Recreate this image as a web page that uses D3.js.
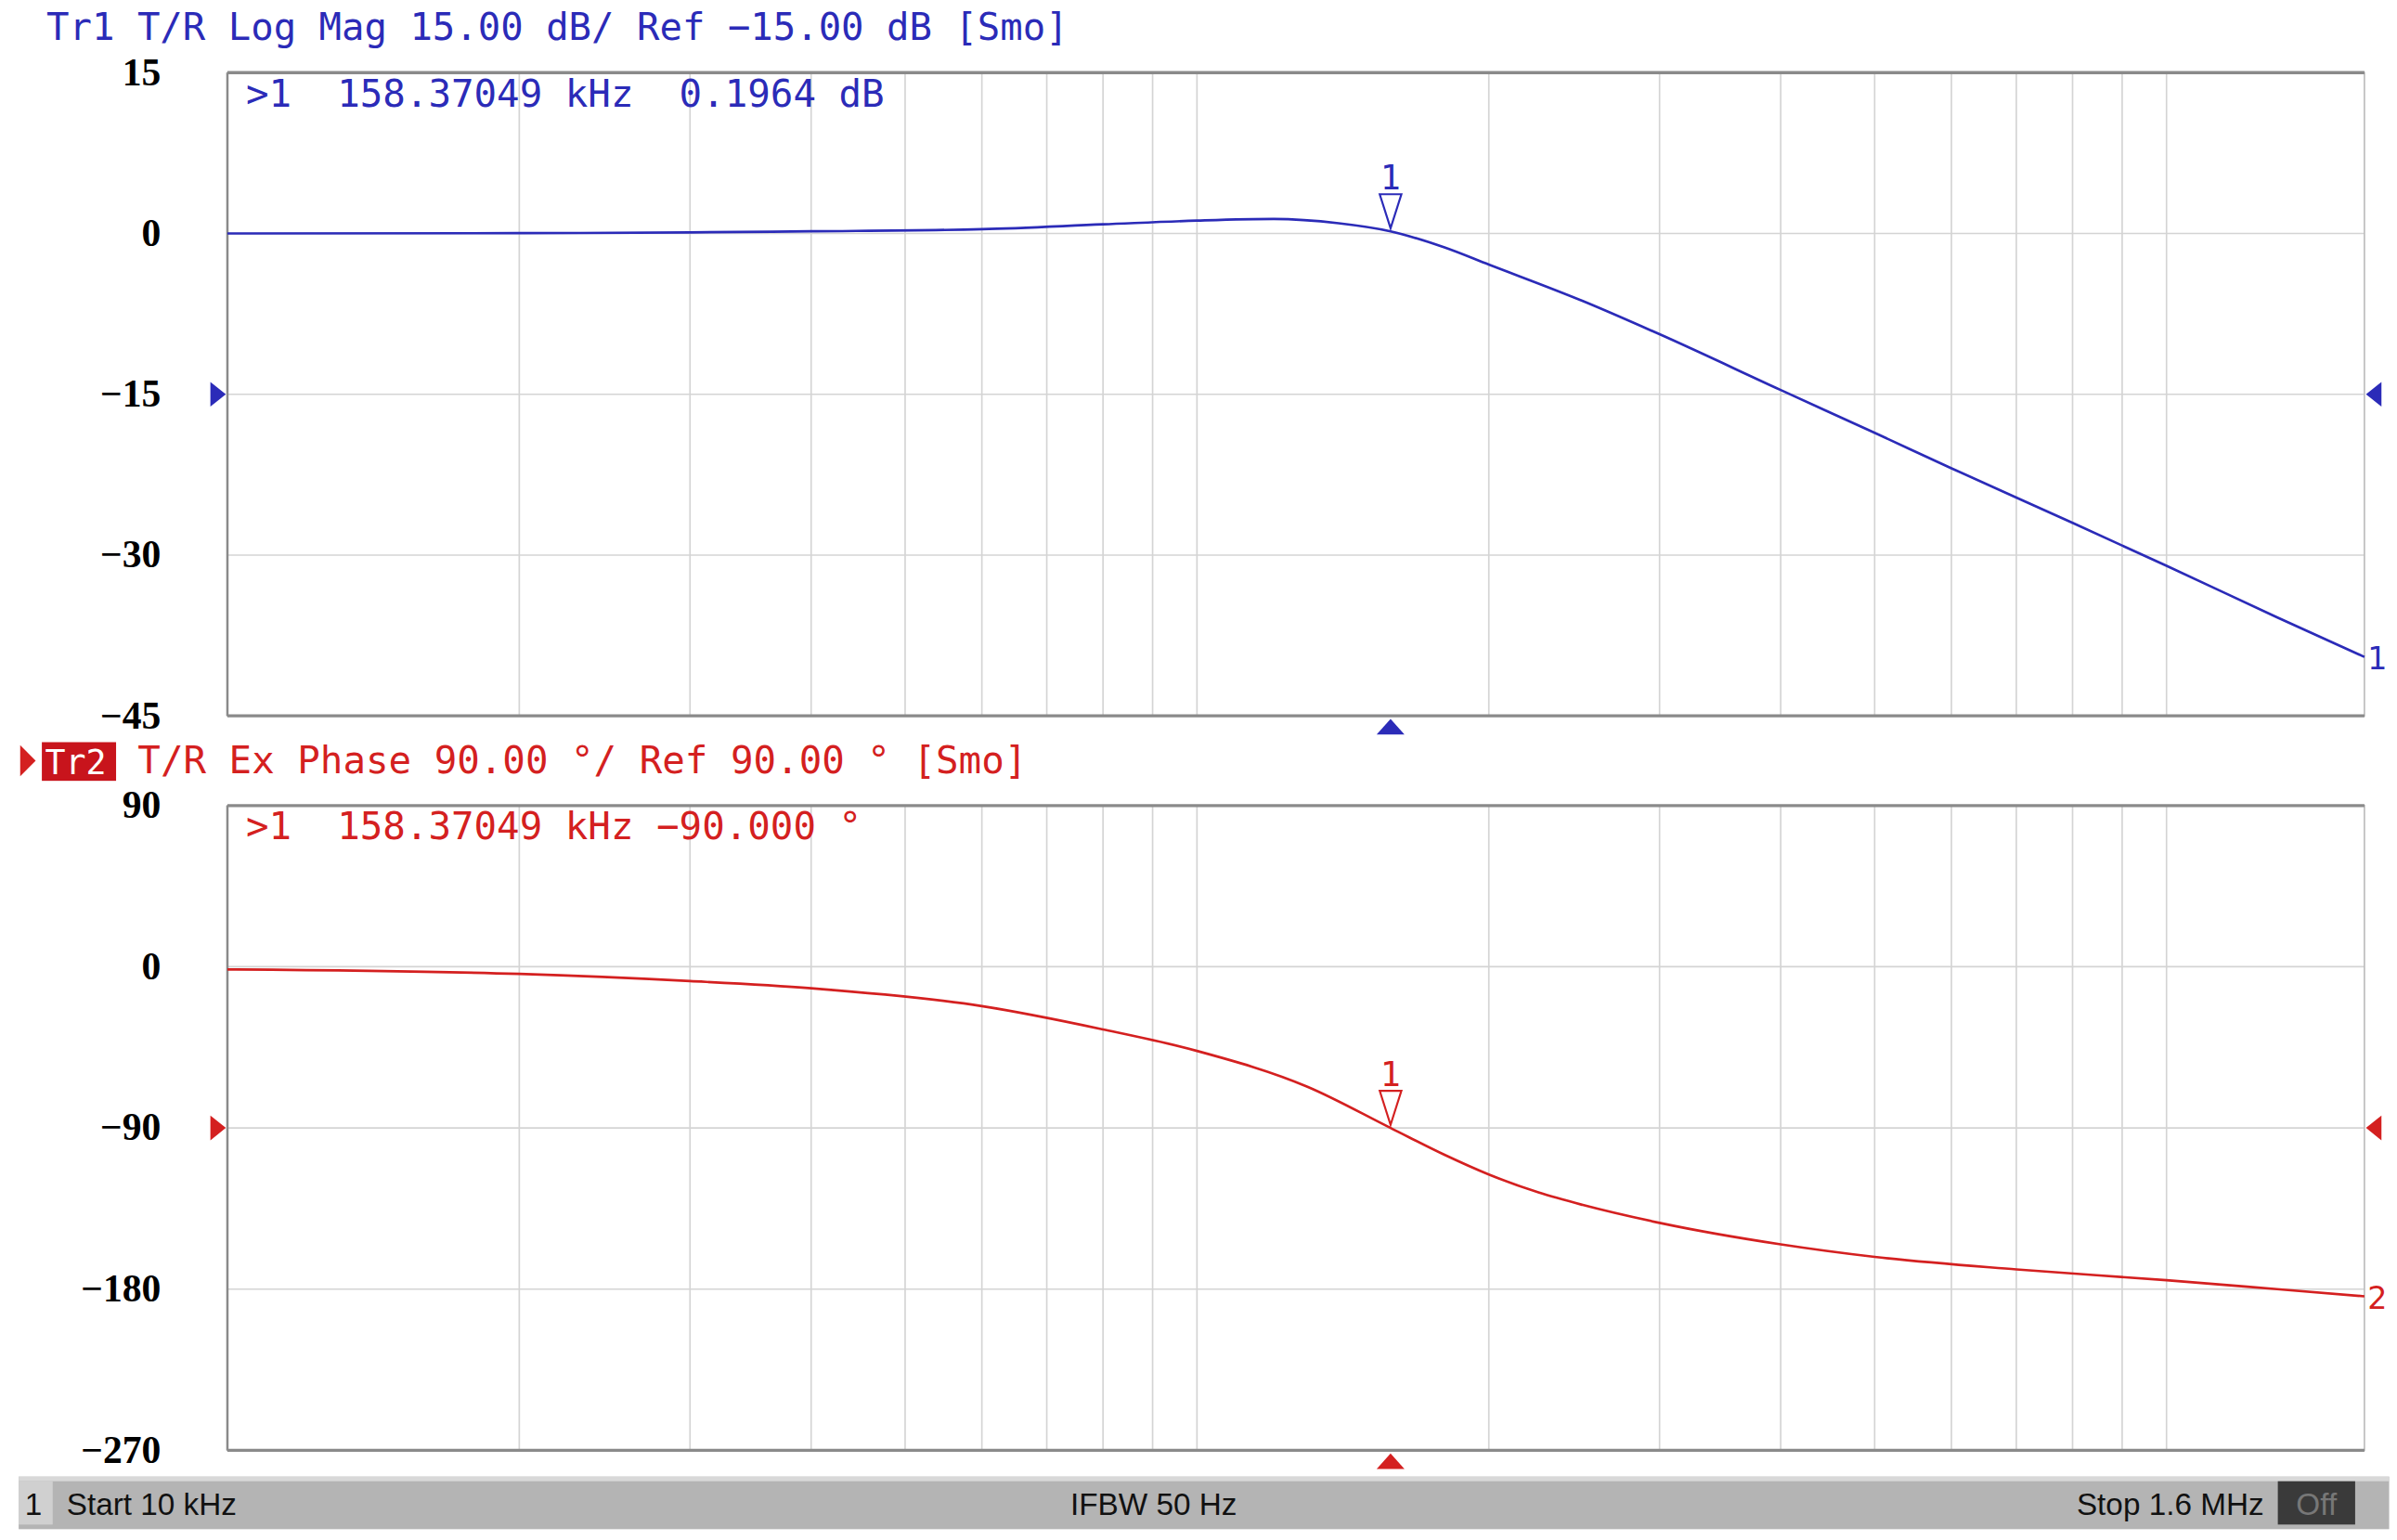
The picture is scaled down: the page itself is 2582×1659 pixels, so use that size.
<!DOCTYPE html>
<html><head><meta charset="utf-8">
<script src="https://cdn.jsdelivr.net/npm/d3@7"></script>
<style>body{margin:0;background:#fff}svg{display:block}</style>
</head><body>
<svg id="c" width="2582" height="1659" viewBox="0 0 1550 996"></svg>
<script>
// frequencies in kHz
const magFreq = [10, 20, 30, 40, 60, 80, 100, 120, 140, 158.37, 180, 200, 250, 300, 400, 500, 600, 800, 1000, 1300, 1600];
const magDb   = [0, 0.03, 0.1, 0.2, 0.4, 0.85, 1.2, 1.35, 0.95, 0.1964, -1.3, -2.9, -6.3, -9.4, -14.6, -18.6, -21.9, -27.0, -31.0, -35.8, -39.5];
const phFreq = [10, 20, 30, 40, 60, 80, 100, 130, 158.37, 180, 200, 225, 250, 300, 400, 500, 700, 1000, 1300, 1600];
const phDeg  = [-1.5, -4, -8, -12, -22, -35, -47, -67, -90, -105, -116, -126, -133, -143, -155, -162, -169, -175, -180, -184];
const magTicks = [15, 0, -15, -30, -45];
const phTicks = [90, 0, -90, -180, -270];
const gridFreq = [20,30,40,50,60,70,80,90,100,200,300,400,500,600,700,800,900,1000];
const markerF = 158.37049;

const svg = d3.select("#c");
const L = 147, R = 1529;
const x = d3.scaleLog().domain([10, 1600]).range([L, R]);
const blue = "#2b2bb8", red = "#d42020";
const mono = "DejaVu Sans Mono";

function panel(top, bottom, ticks, freqs, vals, color, refVal, tag, mtext) {
  const y = d3.scaleLinear().domain([ticks[ticks.length-1], ticks[0]]).range([bottom, top]);
  const g = svg.append("g");
  g.selectAll(".vg").data(gridFreq).join("line")
    .attr("x1", d => x(d)).attr("x2", d => x(d)).attr("y1", top).attr("y2", bottom)
    .attr("stroke", "#d4d4d4").attr("stroke-width", 1);
  g.selectAll(".hg").data(ticks.slice(1, -1)).join("line")
    .attr("x1", L).attr("x2", R).attr("y1", d => y(d)).attr("y2", d => y(d))
    .attr("stroke", "#d4d4d4").attr("stroke-width", 1);
  g.append("rect").attr("x", L).attr("y", top).attr("width", R - L).attr("height", bottom - top)
    .attr("fill", "none").attr("stroke", "#bdbdbd").attr("stroke-width", 1);
  g.append("line").attr("x1", L).attr("x2", R).attr("y1", top).attr("y2", top).attr("stroke", "#8a8a8a").attr("stroke-width", 2);
  g.append("line").attr("x1", L).attr("x2", R).attr("y1", bottom).attr("y2", bottom).attr("stroke", "#8a8a8a").attr("stroke-width", 2);
  g.append("line").attr("x1", L).attr("x2", L).attr("y1", top).attr("y2", bottom).attr("stroke", "#8a8a8a").attr("stroke-width", 1.5);
  g.selectAll(".tl").data(ticks).join("text")
    .attr("x", 104).attr("y", d => y(d) + 8).attr("text-anchor", "end")
    .attr("font-family", "Liberation Serif").attr("font-weight", "bold").attr("font-size", 25)
    .text(d => d < 0 ? "\u2212" + (-d) : d);
  const line = d3.line().x((d, i) => x(freqs[i])).y(d => y(d)).curve(d3.curveMonotoneX);
  g.append("path").datum(vals).attr("d", line).attr("fill", "none").attr("stroke", color).attr("stroke-width", 1.6);
  const ry = y(refVal);
  g.append("path").attr("d", `M136,${ry-8}L146,${ry}L136,${ry+8}Z`).attr("fill", color);
  g.append("path").attr("d", `M1540,${ry-8}L1530,${ry}L1540,${ry+8}Z`).attr("fill", color);
  const mx = x(markerF), my = y(vals[freqs.indexOf(158.37)]);
  g.append("path").attr("d", `M${mx-7},${my-24}L${mx+7},${my-24}L${mx},${my-2}Z`)
    .attr("fill", "#fff").attr("stroke", color).attr("stroke-width", 1.3);
  g.append("text").attr("x", mx).attr("y", my - 27).attr("text-anchor", "middle")
    .attr("font-family", mono).attr("font-size", 22).attr("fill", color).text("1");
  g.append("path").attr("d", `M${mx-9},${bottom+12}L${mx+9},${bottom+12}L${mx},${bottom+2}Z`).attr("fill", color);
  g.append("text").attr("x", 1531).attr("y", y(vals[vals.length-1]) + 8)
    .attr("font-family", "DejaVu Sans").attr("font-size", 20).attr("fill", color).text(tag);
  g.append("text").attr("x", 159).attr("y", top + 22).attr("xml:space", "preserve")
    .attr("font-family", mono).attr("font-size", 24.5).attr("fill", color).text(mtext);
}

svg.append("text").attr("x", 30).attr("y", 26).attr("xml:space", "preserve")
  .attr("font-family", mono).attr("font-size", 24.4).attr("fill", blue)
  .text("Tr1 T/R Log Mag 15.00 dB/ Ref \u221215.00 dB [Smo]");
panel(47, 463, magTicks, magFreq, magDb, blue, -15, "1", ">1  158.37049 kHz  0.1964 dB");

svg.append("path").attr("d", "M13,482L23,492L13,502Z").attr("fill", red);
svg.append("rect").attr("x", 27).attr("y", 480).attr("width", 48).attr("height", 25).attr("fill", "#c8141c");
svg.append("text").attr("x", 29).attr("y", 501).attr("font-family", mono).attr("font-size", 22).attr("fill", "#fff").text("Tr2");
svg.append("text").attr("x", 89).attr("y", 500).attr("xml:space", "preserve")
  .attr("font-family", mono).attr("font-size", 24.5).attr("fill", red)
  .text("T/R Ex Phase 90.00 \u00b0/ Ref 90.00 \u00b0 [Smo]");
panel(521, 938, phTicks, phFreq, phDeg, red, -90, "2", ">1  158.37049 kHz \u221290.000 \u00b0");

svg.append("rect").attr("x", 12).attr("y", 955).attr("width", 1533).attr("height", 34).attr("fill", "#b4b4b4");
svg.append("rect").attr("x", 12).attr("y", 955).attr("width", 1533).attr("height", 3).attr("fill", "#d8d8d8");
svg.append("rect").attr("x", 12).attr("y", 958).attr("width", 22).attr("height", 28).attr("fill", "#d0d0d0");
svg.append("rect").attr("x", 1473).attr("y", 958).attr("width", 50).attr("height", 28).attr("fill", "#3a3a3a");
const sb = [["1", 16, "start"], ["Start 10 kHz", 43, "start"], ["IFBW 50 Hz", 746, "middle"], ["Stop 1.6 MHz", 1464, "end"]];
svg.selectAll(".sb").data(sb).join("text")
  .attr("x", d => d[1]).attr("y", 980).attr("text-anchor", d => d[2])
  .attr("font-family", "Liberation Sans").attr("font-size", 20).attr("fill", "#111").text(d => d[0]);
svg.append("text").attr("x", 1498).attr("y", 980).attr("text-anchor", "middle")
  .attr("font-family", "Liberation Sans").attr("font-size", 20).attr("fill", "#777").text("Off");
</script>
</body></html>
